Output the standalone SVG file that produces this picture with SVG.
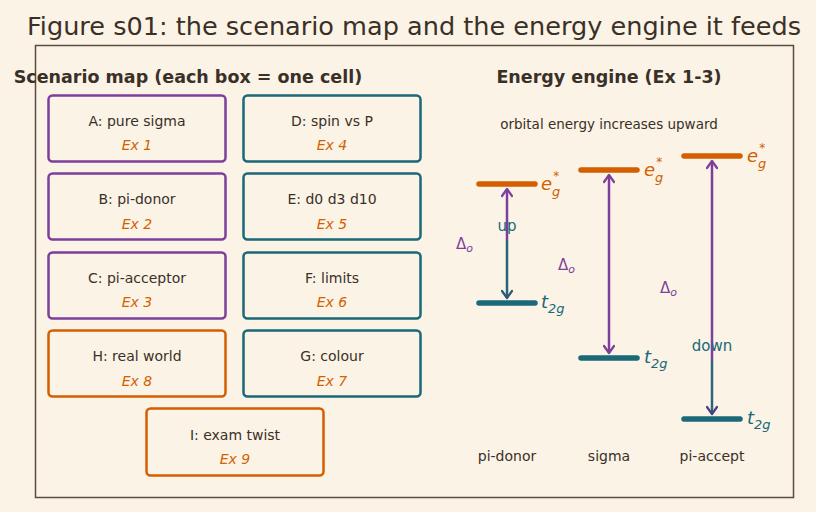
<svg xmlns="http://www.w3.org/2000/svg" width="816" height="512" viewBox="0 0 816 512">
<style>
text{font-family:"DejaVu Sans",sans-serif;fill:#3a3028}
.title{font-size:25px}
.head{font-size:17.5px;font-weight:bold}
.lbl{font-size:14px}
.ex{font-size:14px;font-style:italic;fill:#d35f00}
.box{fill:#faf3e6;stroke-width:2.5}
.p{stroke:#7d3f9c}
.t{stroke:#1b6878}
.o{stroke:#d35f00}
.bar{stroke-width:5.5;stroke-linecap:round}
.eg{font-size:18px;font-style:italic;fill:#d35f00}
.t2{font-size:18px;font-style:italic;fill:#1b6878}
.d{font-size:15px;fill:#7d3f9c}
.tl{font-size:15px;fill:#1b6878}
</style>
<defs>
<marker id="hp" viewBox="0 0 12 12" refX="10" refY="6" markerWidth="12" markerHeight="12" markerUnits="userSpaceOnUse" orient="auto-start-reverse">
<path d="M3,1 L10,6 L3,11" fill="none" stroke="#7d3f9c" stroke-width="2.2" stroke-linecap="round" stroke-linejoin="round"/>
</marker>
<marker id="ht" viewBox="0 0 12 12" refX="10" refY="6" markerWidth="12" markerHeight="12" markerUnits="userSpaceOnUse" orient="auto-start-reverse">
<path d="M3,1 L10,6 L3,11" fill="none" stroke="#2a5a72" stroke-width="2.2" stroke-linecap="round" stroke-linejoin="round"/>
</marker>
<marker id="hd" viewBox="0 0 12 12" refX="10" refY="6" markerWidth="12" markerHeight="12" markerUnits="userSpaceOnUse" orient="auto-start-reverse">
<path d="M3,1 L10,6 L3,11" fill="none" stroke="#4a3f86" stroke-width="2.2" stroke-linecap="round" stroke-linejoin="round"/>
</marker>
</defs>
<rect width="816" height="512" fill="#faf3e6"/>
<rect x="35.5" y="45.5" width="758" height="452" fill="none" stroke="#5a4c3e" stroke-width="1.5"/>
<text class="title" x="414" y="35" text-anchor="middle" textLength="774" lengthAdjust="spacingAndGlyphs">Figure s01: the scenario map and the energy engine it feeds</text>
<text class="head" x="188" y="83" text-anchor="middle">Scenario map (each box = one cell)</text>
<text class="head" x="609" y="83" text-anchor="middle">Energy engine (Ex 1-3)</text>
<text class="lbl" x="609" y="129" text-anchor="middle" style="font-size:13.5px">orbital energy increases upward</text>

<g id="nodeA"><rect class="box p" x="48.5" y="95.5" width="177" height="66" rx="4"/><text class="lbl" x="137" y="126" text-anchor="middle">A: pure sigma</text><text class="ex" x="137" y="150" text-anchor="middle">Ex 1</text></g>
<g id="nodeB"><rect class="box p" x="48.5" y="173.5" width="177" height="66" rx="4"/><text class="lbl" x="137" y="204" text-anchor="middle">B: pi-donor</text><text class="ex" x="137" y="229" text-anchor="middle">Ex 2</text></g>
<g id="nodeC"><rect class="box p" x="48.5" y="252.5" width="177" height="66" rx="4"/><text class="lbl" x="137" y="283" text-anchor="middle">C: pi-acceptor</text><text class="ex" x="137" y="307" text-anchor="middle">Ex 3</text></g>
<g id="nodeH"><rect class="box o" x="48.5" y="330.5" width="177" height="66" rx="4"/><text class="lbl" x="137" y="361" text-anchor="middle">H: real world</text><text class="ex" x="137" y="386" text-anchor="middle">Ex 8</text></g>
<g id="nodeD"><rect class="box t" x="243.5" y="95.5" width="177" height="66" rx="4"/><text class="lbl" x="332" y="126" text-anchor="middle">D: spin vs P</text><text class="ex" x="332" y="150" text-anchor="middle">Ex 4</text></g>
<g id="nodeE"><rect class="box t" x="243.5" y="173.5" width="177" height="66" rx="4"/><text class="lbl" x="332" y="204" text-anchor="middle">E: d0 d3 d10</text><text class="ex" x="332" y="229" text-anchor="middle">Ex 5</text></g>
<g id="nodeF"><rect class="box t" x="243.5" y="252.5" width="177" height="66" rx="4"/><text class="lbl" x="332" y="283" text-anchor="middle">F: limits</text><text class="ex" x="332" y="307" text-anchor="middle">Ex 6</text></g>
<g id="nodeG"><rect class="box t" x="243.5" y="330.5" width="177" height="66" rx="4"/><text class="lbl" x="332" y="361" text-anchor="middle">G: colour</text><text class="ex" x="332" y="386" text-anchor="middle">Ex 7</text></g>
<g id="nodeI"><rect class="box o" x="146.5" y="408.5" width="177" height="67" rx="4"/><text class="lbl" x="235" y="440" text-anchor="middle">I: exam twist</text><text class="ex" x="235" y="464" text-anchor="middle">Ex 9</text></g>

<g id="connectors" fill="none" stroke-width="2.5">
<line class="p" x1="507" y1="189" x2="507" y2="240" marker-start="url(#hp)"/>
<line x1="507" y1="240" x2="507" y2="298" marker-end="url(#ht)" stroke="#2a6478"/>
<line class="p" x1="609" y1="175" x2="609" y2="353" marker-start="url(#hp)" marker-end="url(#hp)"/>
<line class="p" x1="712" y1="161" x2="712" y2="360" marker-start="url(#hp)"/>
<line x1="712" y1="360" x2="712" y2="414" stroke="#2e6480" marker-end="url(#hd)"/>
</g>

<g id="level-pi-donor">
<line class="bar o" x1="479" y1="184" x2="535" y2="184"/>
<line class="bar t" x1="479" y1="303" x2="535" y2="303"/>
<text class="eg" x="541" y="190">e<tspan dy="6" font-size="13">g</tspan><tspan dx="-7" dy="-16" font-size="12">*</tspan></text>
<text class="t2" x="541" y="308">t<tspan dy="5" font-size="13">2g</tspan></text>
<text class="tl" x="507" y="231" text-anchor="middle">up</text>
<text class="d" x="456" y="249">Δ<tspan dy="3" font-size="11" font-style="italic">o</tspan></text>
<text class="lbl" x="507" y="461" text-anchor="middle">pi-donor</text>
</g>
<g id="level-sigma">
<line class="bar o" x1="581" y1="170" x2="637" y2="170"/>
<line class="bar t" x1="581" y1="358" x2="637" y2="358"/>
<text class="eg" x="644" y="176">e<tspan dy="6" font-size="13">g</tspan><tspan dx="-7" dy="-16" font-size="12">*</tspan></text>
<text class="t2" x="644" y="363">t<tspan dy="5" font-size="13">2g</tspan></text>
<text class="d" x="558" y="270">Δ<tspan dy="3" font-size="11" font-style="italic">o</tspan></text>
<text class="lbl" x="609" y="461" text-anchor="middle">sigma</text>
</g>
<g id="level-pi-accept">
<line class="bar o" x1="684" y1="156" x2="740" y2="156"/>
<line class="bar t" x1="684" y1="419" x2="740" y2="419"/>
<text class="eg" x="747" y="162">e<tspan dy="6" font-size="13">g</tspan><tspan dx="-7" dy="-16" font-size="12">*</tspan></text>
<text class="t2" x="747" y="424">t<tspan dy="5" font-size="13">2g</tspan></text>
<text class="d" x="660" y="293">Δ<tspan dy="3" font-size="11" font-style="italic">o</tspan></text>
<text class="tl" x="712" y="351" text-anchor="middle">down</text>
<text class="lbl" x="712" y="461" text-anchor="middle">pi-accept</text>
</g>
</svg>
